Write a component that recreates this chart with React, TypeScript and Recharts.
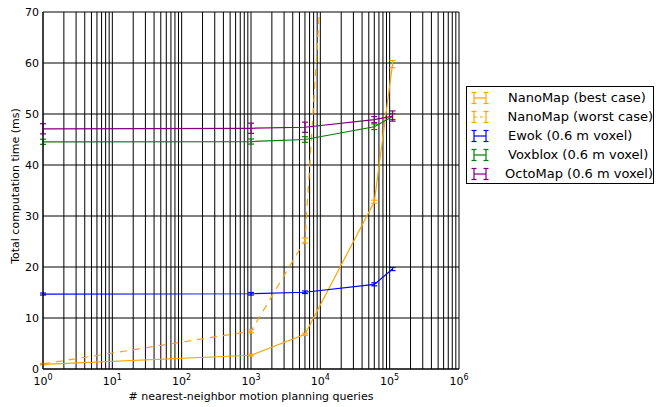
import React from 'react';
import { ComposedChart, Line, XAxis, YAxis, CartesianGrid, ErrorBar } from 'recharts';

// ---- data ----
const queries = [1, 1000, 6000, 60000, 110000];
const nanoBest = [0.9, 2.7, 6.8, 32.8, 59.8];
const nanoBestErr = [0.1, 0.15, 0.2, 0.3, 0.7];
const nanoWorst = [1.0, 7.4, 25.2, 240, 470];
const nanoWorstErr = [0.1, 0.3, 0.5, 2, 4];
const ewok = [14.7, 14.75, 15.05, 16.6, 19.6];
const ewokErr = [0.2, 0.25, 0.25, 0.3, 0.3];
const voxblox = [44.55, 44.6, 45.0, 47.5, 49.5];
const voxbloxErr = [0.5, 0.5, 0.55, 0.55, 0.6];
const octomap = [47.1, 47.2, 47.4, 48.9, 49.6];
const octomapErr = [1.0, 1.0, 1.0, 0.6, 1.0];

const seriesNames = [
  'NanoMap (best case)',
  'NanoMap (worst case)',
  'Ewok (0.6 m voxel)',
  'Voxblox (0.6 m voxel)',
  'OctoMap (0.6 m voxel)',
];

const xDecades = [1, 10, 100, 1000, 10000, 100000, 1000000];
const xExponents = ['0', '1', '2', '3', '4', '5', '6'];
const yTicks = [0, 10, 20, 30, 40, 50, 60, 70];
const minorMultipliers = [1, 2, 3, 4, 5, 6, 7, 8, 9];

const xGridTicks: number[] = [];
xDecades.forEach((d, i) => {
  if (i === xDecades.length - 1) {
    xGridTicks.push(d);
  } else {
    minorMultipliers.forEach((m) => xGridTicks.push(m * d));
  }
});

const build = (vals: number[], errs: number[]) =>
  queries.map((q, i) => ({ x: q, y: vals[i], err: errs[i] }));

const series = [
  { name: seriesNames[0], data: build(nanoBest, nanoBestErr), color: '#FFA500', dashed: false },
  { name: seriesNames[1], data: build(nanoWorst, nanoWorstErr), color: '#FFA500', dashed: true },
  { name: seriesNames[2], data: build(ewok, ewokErr), color: '#0000FF', dashed: false },
  { name: seriesNames[3], data: build(voxblox, voxbloxErr), color: '#008000', dashed: false },
  { name: seriesNames[4], data: build(octomap, octomapErr), color: '#800080', dashed: false },
];

const FONT = 'DejaVu Sans, sans-serif';

const XTick = (props: any) => {
  const { x, y, payload } = props;
  const idx = xDecades.indexOf(payload.value);
  if (idx < 0) return <g />;
  return (
    <text x={x} y={y + 14} textAnchor="middle" fontFamily={FONT} fontSize={11} fill="#000">
      10
      <tspan dy={-5} fontSize={8}>{xExponents[idx]}</tspan>
    </text>
  );
};

const LegendHandle = ({ color, dashed }: { color: string; dashed: boolean }) => (
  <svg width={18} height={14} style={{ display: 'block' }}>
    <line x1={3} y1={7} x2={15} y2={7} stroke={color} strokeWidth={1.2} strokeDasharray={dashed ? '3 3' : undefined} />
    <line x1={3} y1={1.5} x2={3} y2={12.5} stroke={color} strokeWidth={1.2} />
    <line x1={15} y1={1.5} x2={15} y2={12.5} stroke={color} strokeWidth={1.2} />
    <line x1={0.5} y1={1.5} x2={5.5} y2={1.5} stroke={color} strokeWidth={1.2} />
    <line x1={0.5} y1={12.5} x2={5.5} y2={12.5} stroke={color} strokeWidth={1.2} />
    <line x1={12.5} y1={1.5} x2={17.5} y2={1.5} stroke={color} strokeWidth={1.2} />
    <line x1={12.5} y1={12.5} x2={17.5} y2={12.5} stroke={color} strokeWidth={1.2} />
  </svg>
);

export default function App() {
  return (
    <div style={{ position: 'absolute', left: 0, top: 0, width: 656, height: 407, background: '#fff', fontFamily: FONT }}>
      <ComposedChart width={656} height={407} margin={{ top: 12, right: 197, bottom: 0, left: 0 }}>
        <CartesianGrid stroke="#000" strokeWidth={1} />
        <XAxis
          dataKey="x"
          type="number"
          scale="log"
          domain={[1, 1000000]}
          allowDataOverflow
          ticks={xGridTicks}
          interval={0}
          tick={<XTick />}
          tickLine={false}
          axisLine={{ stroke: '#000' }}
          tickSize={0}
          height={38}
        />
        <YAxis
          type="number"
          domain={[0, 70]}
          allowDataOverflow
          ticks={yTicks}
          interval={0}
          tickLine={false}
          axisLine={{ stroke: '#000' }}
          tickSize={0}
          tickMargin={4}
          width={43}
          tick={{ fill: '#000', fontSize: 11, fontFamily: FONT }}
        />
        {series.map((s) => (
          <Line
            key={s.name}
            name={s.name}
            data={s.data}
            dataKey="y"
            type="linear"
            stroke={s.color}
            strokeWidth={1.2}
            strokeDasharray={s.dashed ? '7 6' : undefined}
            dot={false}
            activeDot={false}
            isAnimationActive={false}
          >
            <ErrorBar dataKey="err" direction="y" width={3} stroke={s.color} strokeWidth={1.2} isAnimationActive={false} />
          </Line>
        ))}
      </ComposedChart>
      <div
        style={{
          position: 'absolute',
          left: 15,
          top: 186,
          transform: 'translate(-50%, -50%) rotate(-90deg)',
          fontSize: 11,
          lineHeight: '13px',
          whiteSpace: 'nowrap',
          color: '#000',
        }}
      >
        Total computation time (ms)
      </div>
      <div
        style={{
          position: 'absolute',
          left: 251,
          top: 396,
          transform: 'translate(-50%, -50%)',
          fontSize: 11,
          lineHeight: '13px',
          whiteSpace: 'nowrap',
          color: '#000',
        }}
      >
        # nearest-neighbor motion planning queries
      </div>
      <div
        style={{
          position: 'absolute',
          left: 466,
          top: 86,
          width: 188,
          height: 98,
          border: '1px solid #000',
          background: '#fff',
          boxSizing: 'border-box',
          paddingTop: 1,
        }}
      >
        {series.map((s) => (
          <div key={s.name} style={{ display: 'flex', alignItems: 'center', height: 19 }}>
            <div style={{ marginLeft: 4, width: 37 }}>
              <LegendHandle color={s.color} dashed={s.dashed} />
            </div>
            <span style={{ fontSize: 13, whiteSpace: 'nowrap', color: '#000' }}>{s.name}</span>
          </div>
        ))}
      </div>
    </div>
  );
}
